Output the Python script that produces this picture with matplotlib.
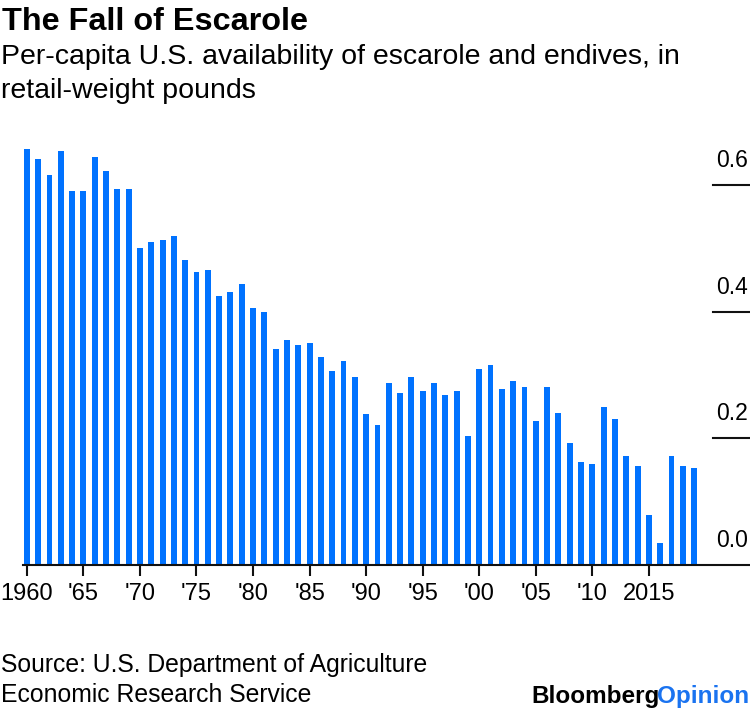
import matplotlib
matplotlib.use("Agg")
import matplotlib.pyplot as plt
from matplotlib.transforms import offset_copy

years = list(range(1960, 2020))
pounds = [0.657, 0.641, 0.616, 0.654, 0.591, 0.591, 0.645, 0.622, 0.594, 0.594,
          0.501, 0.510, 0.513, 0.519, 0.482, 0.463, 0.466, 0.425, 0.431, 0.444,
          0.406, 0.400, 0.341, 0.356, 0.347, 0.350, 0.328, 0.306, 0.322, 0.297,
          0.238, 0.221, 0.287, 0.271, 0.297, 0.275, 0.287, 0.268, 0.275, 0.203,
          0.309, 0.316, 0.278, 0.290, 0.281, 0.228, 0.281, 0.240, 0.193, 0.162,
          0.159, 0.250, 0.231, 0.172, 0.156, 0.078, 0.034, 0.172, 0.156, 0.153]
x_ticks = [1960, 1965, 1970, 1975, 1980, 1985, 1990, 1995, 2000, 2005, 2010, 2015]
x_tick_labels = ["1960", "'65", "'70", "'75", "'80", "'85", "'90", "'95", "'00", "'05", "'10", "2015"]
y_ticks = [0.0, 0.2, 0.4, 0.6]
y_tick_labels = ["0.0", "0.2", "0.4", "0.6"]

plt.rcParams["font.family"] = ["Liberation Sans", "DejaVu Sans"]

W, H = 750, 710
fig = plt.figure(figsize=(W / 100, H / 100), dpi=100)
ax = fig.add_axes([23 / W, (H - 564.7) / H, 727 / W, 442.7 / H])

ax.bar(years, pounds, width=0.52, color="#0072ff", zorder=2)
ax.set_xlim(1959.66, 2023.94)
ax.set_ylim(0, 0.7)

for side in ["top", "left", "right"]:
    ax.spines[side].set_visible(False)
ax.spines["bottom"].set_linewidth(1.5)
ax.spines["bottom"].set_color("#111111")
ax.spines["bottom"].set_zorder(3)

ax.set_xticks(x_ticks)
ax.set_xticklabels(x_tick_labels, fontsize=17)
ax.tick_params(axis="x", direction="out", length=8, width=1.5, color="#111111", pad=5)
ax.set_yticks([])

# right-side value labels sitting above short rule lines
lbl_trans = offset_copy(ax.get_yaxis_transform(), fig=fig, y=18, units="dots")
for v, lab in zip(y_ticks, y_tick_labels):
    if v > 0:
        ax.axhline(v, xmin=0.949, xmax=0.998, color="#111111", linewidth=1.5)
    ax.text(0.9975, v, lab, transform=lbl_trans, ha="right", va="baseline", fontsize=16.5)

fig.text(2 / W, 1 - 30 / H, "The Fall of Escarole", fontsize=23.3, fontweight="bold",
         ha="left", va="baseline")
fig.text(1 / W, 1 - 64.3 / H, "Per-capita U.S. availability of escarole and endives, in",
         fontsize=20.5, ha="left", va="baseline")
fig.text(1 / W, 1 - 97.7 / H, "retail-weight pounds", fontsize=20.5, ha="left", va="baseline")

fig.text(1 / W, 1 - 672 / H, "Source: U.S. Department of Agriculture", fontsize=17.8,
         ha="left", va="baseline")
fig.text(1 / W, 1 - 702 / H, "Economic Research Service", fontsize=17.8, ha="left", va="baseline")

opinion = fig.text(749 / W, 1 - 703 / H, "Opinion", fontsize=17.5, fontweight="bold",
                   color="#1a73f0", ha="right", va="baseline")
ax.annotate("Bloomberg", xy=(0, 0), xycoords=opinion, xytext=(3, 0), textcoords="offset pixels",
            ha="right", va="bottom", fontsize=17.5, fontweight="bold", color="black",
            annotation_clip=False)

fig.savefig("out.png", dpi=100, facecolor="white")
